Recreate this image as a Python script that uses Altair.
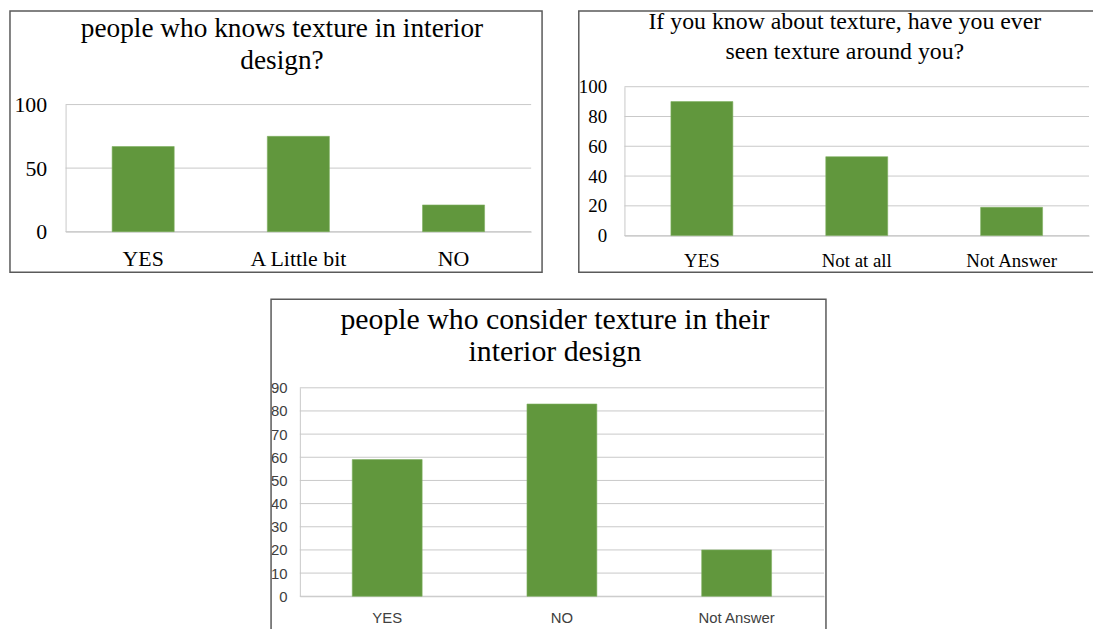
import altair as alt
import pandas as pd

# ---------------- data ----------------
p1_title = ["people who knows texture in interior", "design?"]
p1_cats = ["YES", "A Little bit", "NO"]
p1_vals = [67, 75, 21]
p1_ticks = [0, 50, 100]

p2_title = ["If you know about texture, have you ever", "seen texture around you?"]
p2_cats = ["YES", "Not at all", "Not Answer"]
p2_vals = [90, 53, 19]
p2_ticks = [0, 20, 40, 60, 80, 100]

p3_title = ["people who consider texture in their", "interior design"]
p3_cats = ["YES", "NO", "Not Answer"]
p3_vals = [59, 83, 20]
p3_ticks = [0, 10, 20, 30, 40, 50, 60, 70, 80, 90]

# ---------------- style ----------------
W, H = 1093, 621
GREEN = "#61973D"
GRID = "#C9C9C9"
BORDER = "#5A5A5A"
SERIF = "Liberation Serif"
SANS = "Liberation Sans"


def panel(cats, vals, ticks, ymax, title_lines, box, px, py,
          title_xy, title_size, line_h, lab_font, lab_size, ypad, xpad, lab_color):
    bars = pd.DataFrame({"cat": cats, "val": vals})
    grid = pd.DataFrame({"v": ticks})
    one = pd.DataFrame({"t": ["\n".join(title_lines)]})

    xs = alt.Scale(domain=cats, range=[px[0], px[1]], paddingInner=0.6, paddingOuter=0.3)
    ys = alt.Scale(domain=[0, ymax], range=[py[0], py[1]], nice=False, zero=True)
    yaxis = alt.Axis(
        orient="left", offset=-px[0], values=ticks, grid=False, ticks=False,
        domain=True, domainColor=GRID, domainWidth=1, labelFont=lab_font,
        labelFontSize=lab_size, labelPadding=ypad, labelColor=lab_color, title=None)

    border = alt.Chart(one).mark_rect(fillOpacity=0, stroke=BORDER, strokeWidth=1.5).encode(
        x=alt.value(box[0]), x2=alt.value(box[1]), y=alt.value(box[2]), y2=alt.value(box[3])
    )
    gridl = alt.Chart(grid).mark_rule(color=GRID, strokeWidth=1).encode(
        y=alt.Y("v:Q", scale=ys, axis=yaxis),
        x=alt.value(px[0]), x2=alt.value(px[1]),
    )
    barl = alt.Chart(bars).mark_bar(color=GREEN, stroke="#7FB060", strokeWidth=0.6).encode(
        x=alt.X("cat:N", scale=xs, sort=cats, axis=alt.Axis(
            orient="bottom", offset=py[0] - H, grid=False, ticks=False, domain=True,
            domainColor=GRID, domainWidth=1, labelAngle=0, labelFont=lab_font,
            labelFontSize=lab_size, labelPadding=xpad, labelBaseline="middle",
            labelColor=lab_color, labelLimit=300, title=None)),
        y=alt.Y("val:Q", scale=ys, axis=yaxis),
    )
    title = alt.Chart(one).mark_text(
        font=SERIF, fontSize=title_size, lineHeight=line_h, lineBreak="\n",
        align="center", baseline="middle", color="#000000",
    ).encode(text="t:N", x=alt.value(title_xy[0]), y=alt.value(title_xy[1]))
    return alt.layer(border, gridl, barl, title)


c1 = panel(p1_cats, p1_vals, p1_ticks, 100, p1_title,
           box=[2, 538, 0.75, 264], px=[58, 527], py=[223, 95],
           title_xy=[276, 19], title_size=27.5, line_h=32,
           lab_font=SERIF, lab_size=22, ypad=19, xpad=27, lab_color="#000000")
c2 = panel(p2_cats, p2_vals, p2_ticks, 100, p2_title,
           box=[575, 1102, 0.75, 264], px=[621, 1089], py=[227, 77],
           title_xy=[843, 12], title_size=24, line_h=30,
           lab_font=SERIF, lab_size=19, ypad=18, xpad=25, lab_color="#000000")
c3 = panel(p3_cats, p3_vals, p3_ticks, 90, p3_title,
           box=[265, 824, 291, 640], px=[294, 822], py=[590.3, 380.3],
           title_xy=[551, 312], title_size=30, line_h=32,
           lab_font=SANS, lab_size=15, ypad=13, xpad=21, lab_color="#404040")

chart = (
    alt.layer(c1, c2, c3)
    .resolve_scale(x="independent", y="independent")
    .resolve_axis(x="independent", y="independent")
    .properties(width=W, height=H, autosize=alt.AutoSizeParams(type="none"), padding=0,
                background="#FFFFFF")
    .configure_view(strokeWidth=0)
)

chart.save("out.html", embed_options={"renderer": "svg", "actions": False})
